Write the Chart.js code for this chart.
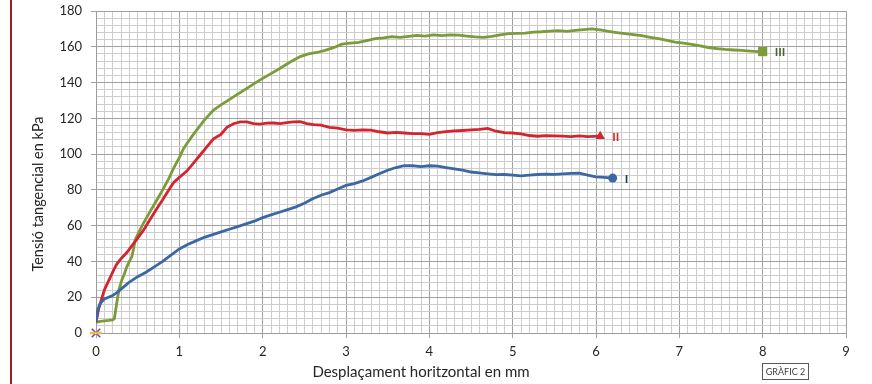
<!DOCTYPE html>
<html>
<head>
<meta charset="utf-8">
<script src="https://cdn.jsdelivr.net/npm/chart.js@4/dist/chart.umd.min.js"></script>
<style>
  html, body { margin: 0; padding: 0; background: #fff; }
  canvas { display: block; }
</style>
</head>
<body>
<canvas id="myChart" width="872" height="384"></canvas>
<script>
'use strict'

// assaig I: desplaçament (mm) i tensió (kPa)
var xI = [0, 0.02, 0.05, 0.1, 0.15, 0.2, 0.25, 0.3, 0.35, 0.4, 0.5, 0.6, 0.7, 0.8, 0.9, 1.0,
    1.1, 1.2, 1.3, 1.4, 1.5, 1.6, 1.7, 1.8, 1.9, 2.0, 2.1, 2.2, 2.3, 2.4, 2.5, 2.6, 2.7, 2.8,
    2.9, 3.0, 3.1, 3.2, 3.3, 3.4, 3.5, 3.6, 3.7, 3.8, 3.9, 4.0, 4.1, 4.2, 4.3, 4.4, 4.5, 4.6,
    4.7, 4.8, 4.9, 5.0, 5.1, 5.2, 5.3, 5.4, 5.5, 5.6, 5.7, 5.8, 5.9, 6.0, 6.1, 6.2];
var yI = [6, 13, 16.5, 19, 20, 21, 22.5, 24.5, 26.5, 28.5, 31.5, 34, 37, 40, 43.5, 47,
    49.5, 51.5, 53.5, 55, 56.5, 58, 59.5, 61, 62.5, 64.5, 66, 67.5, 69, 70.5, 72.5, 75, 77, 78.5,
    80.5, 82.5, 83.5, 85, 87, 89, 91, 92.5, 93.5, 93.5, 93, 93.5, 93.3, 92.5, 91.8, 91, 90, 89.5,
    89, 88.5, 88.6, 88.2, 87.8, 88.3, 88.6, 88.8, 88.7, 88.9, 89.2, 89.3, 88.3, 87.3, 87.0, 86.6];

// assaig II
var xII = [0, 0.03, 0.06, 0.1, 0.13, 0.17, 0.21, 0.25, 0.3, 0.37, 0.45, 0.5, 0.57, 0.63, 0.69,
    0.75, 0.8, 0.86, 0.93, 1.0, 1.09, 1.17, 1.25, 1.33, 1.41, 1.5, 1.57, 1.65, 1.73, 1.81, 1.89,
    1.97, 2.05, 2.13, 2.21, 2.29, 2.37, 2.45, 2.53, 2.61, 2.7, 2.8, 2.9, 3.0, 3.1, 3.2, 3.3, 3.4,
    3.5, 3.6, 3.7, 3.8, 3.9, 4.0, 4.1, 4.2, 4.3, 4.4, 4.5, 4.6, 4.7, 4.8, 4.9, 5.0, 5.1, 5.2,
    5.3, 5.4, 5.5, 5.6, 5.7, 5.8, 5.9, 6.05];
var yII = [6, 13, 18, 24, 27, 31, 35, 38.5, 41.5, 45, 50, 53, 57.5, 62, 66.5,
    71, 74.5, 79, 84, 87, 90.5, 95, 99.5, 104, 108.5, 111, 115, 117, 118, 118, 117,
    116.8, 117.3, 117.4, 117, 117.6, 118, 118.2, 117, 116.5, 116.2, 115, 114.5, 113.5, 113.3, 113.6, 113.4, 112.5,
    111.8, 112.2, 111.8, 111.5, 111.5, 111, 112, 112.6, 113, 113.2, 113.5, 113.8, 114.4, 112.8, 112, 111.8, 111.3, 110.4,
    110, 110.3, 110.2, 110, 109.8, 110.2, 109.8, 110];

// assaig III
var xIII = [0, 0.05, 0.1, 0.15, 0.2, 0.22, 0.24, 0.26, 0.28, 0.31, 0.34, 0.37, 0.4, 0.43, 0.45,
    0.47, 0.52, 0.57, 0.65, 0.73, 0.8, 0.87, 0.93, 1.0, 1.05, 1.1, 1.16, 1.21, 1.3, 1.41, 1.5,
    1.65, 1.8, 1.97, 2.1, 2.21, 2.33, 2.45, 2.55, 2.65, 2.75, 2.85, 2.95, 3.05, 3.15, 3.25, 3.35,
    3.45, 3.55, 3.65, 3.75, 3.85, 3.95, 4.05, 4.15, 4.25, 4.35, 4.45, 4.55, 4.65, 4.75, 4.85, 4.95,
    5.05, 5.15, 5.25, 5.35, 5.45, 5.55, 5.65, 5.75, 5.85, 5.95, 6.05, 6.15, 6.25, 6.35, 6.45, 6.55,
    6.65, 6.75, 6.85, 6.95, 7.05, 7.15, 7.25, 7.35, 7.45, 7.55, 7.65, 7.75, 7.85, 7.95, 8.0];
var yIII = [6, 6.5, 6.8, 7, 7.3, 8, 14, 20, 25, 29.6, 33, 37, 40, 42.6, 47,
    52, 57, 61.4, 68, 74.3, 80, 86, 92, 98, 103, 106.5, 110.5, 113.5, 119, 124.6, 127.5,
    132, 136.5, 141.5, 145, 148, 151.5, 154.5, 156, 156.8, 158, 159.5, 161.5, 162, 162.5, 163.5, 164.5,
    165, 165.7, 165.3, 165.8, 166.4, 166, 166.6, 166.2, 166.6, 166.5, 166, 165.5, 165.3, 165.8, 166.6, 167.3,
    167.5, 167.6, 168.2, 168.4, 168.8, 169, 168.6, 169.2, 169.6, 170, 169.4, 168.6, 167.9, 167.3, 166.8, 166.2,
    165.3, 164.5, 163.6, 162.6, 162, 161.4, 160.5, 159.6, 159, 158.5, 158.2, 158, 157.6, 157.3, 157.3];

var seriesNames = ['I', 'II', 'III'];
var seriesColors = ['#3b67a3', '#d3252f', '#7c9b3b'];
var labelColors = ['#24385a', '#d3252f', '#4f6228'];
var endStyles = ['circle', 'triangle', 'rect'];
var endRadius = [4.5, 5.5, 6.5];

var xTitle = 'Desplaçament horitzontal en mm';
var yTitle = 'Tensió tangencial en kPa';
var boxText = 'GRÀFIC 2';

function pts(xs, ys) {
    return xs.map(function (x, i) { return { x: x, y: ys[i] }; });
}

var curves = [pts(xI, yI), pts(xII, yII), pts(xIII, yIII)];

var datasets = [];
curves.forEach(function (c, i) {
    datasets.push({
        label: seriesNames[i],
        data: c,
        showLine: true,
        borderColor: seriesColors[i],
        backgroundColor: seriesColors[i],
        borderWidth: 2.8,
        pointRadius: 0,
        tension: 0
    });
});
// marcadors del final de cada assaig
curves.forEach(function (c, i) {
    datasets.push({
        data: [c[c.length - 1]],
        pointStyle: endStyles[i],
        pointRadius: endRadius[i],
        backgroundColor: seriesColors[i],
        borderColor: seriesColors[i],
        borderWidth: 0,
        clip: false
    });
});
// origen
datasets.push({
    data: [{ x: 0, y: 0 }],
    pointStyle: 'line',
    pointRadius: 6,
    borderColor: '#e8c040',
    borderWidth: 2.5,
    clip: false
});
datasets.push({
    data: [{ x: 0, y: 0 }],
    pointStyle: 'crossRot',
    pointRadius: 6,
    borderColor: '#7a3aa8',
    borderWidth: 1.5,
    clip: false
});

var font = 'Lato, "Liberation Sans", sans-serif';

var decor = {
    id: 'decor',
    afterDatasetsDraw: function (chart) {
        var ctx = chart.ctx;
        var xs = chart.scales.x, ys = chart.scales.y;
        ctx.save();
        // etiquetes I, II, III
        ctx.font = 'bold 12px ' + font;
        ctx.textBaseline = 'middle';
        ctx.textAlign = 'left';
        curves.forEach(function (c, i) {
            var p = c[c.length - 1];
            ctx.fillStyle = labelColors[i];
            ctx.fillText(seriesNames[i], xs.getPixelForValue(p.x) + 12, ys.getPixelForValue(p.y) + 1);
        });
        ctx.restore();
    },
    afterDraw: function (chart) {
        var ctx = chart.ctx;
        var area = chart.chartArea;
        ctx.save();
        // línia vermella del marge
        ctx.fillStyle = '#9a1f1f';
        ctx.fillRect(10, 0, 2, chart.height);
        // títols dels eixos
        ctx.fillStyle = '#262626';
        ctx.textAlign = 'center';
        ctx.textBaseline = 'middle';
        ctx.font = '15px ' + font;
        ctx.fillText(xTitle, area.left + 325, 372);
        ctx.font = '14.5px ' + font;
        ctx.translate(38, 194);
        ctx.rotate(-Math.PI / 2);
        ctx.fillText(yTitle, 0, 0);
        ctx.restore();
        // requadre del gràfic
        ctx.save();
        ctx.strokeStyle = '#595959';
        ctx.lineWidth = 1;
        ctx.strokeRect(762.5, 363.5, 46, 16);
        ctx.fillStyle = '#404040';
        ctx.font = '9px ' + font;
        ctx.textAlign = 'center';
        ctx.textBaseline = 'middle';
        ctx.fillText(boxText, 785.5, 372);
        ctx.restore();
    }
};

function isMajor(v, step) {
    var r = v / step;
    return Math.abs(r - Math.round(r)) < 1e-6;
}

var ctx = document.getElementById('myChart').getContext('2d');

var myChart = new Chart(ctx, {
    type: 'scatter',
    data: { datasets: datasets },
    options: {
        responsive: false,
        animation: false,
        layout: { padding: { left: 0, top: 11, right: 26, bottom: 0 } },
        plugins: {
            legend: { display: false },
            tooltip: { enabled: false }
        },
        scales: {
            x: {
                type: 'linear',
                min: 0,
                max: 9,
                afterFit: function (s) {
                    s.height = 51;
                    s.paddingLeft = 0;
                    s.paddingRight = 0;
                },
                border: { color: '#9c9c9c', width: 1 },
                grid: {
                    tickLength: 5,
                    color: function (c) { return isMajor(c.tick.value, 1) ? '#a0a0a0' : '#cdcdcd'; },
                    tickColor: function (c) { return isMajor(c.tick.value, 1) ? '#a0a0a0' : 'rgba(0,0,0,0)'; }
                },
                ticks: {
                    stepSize: 0.1,
                    autoSkip: false,
                    maxRotation: 0,
                    padding: 6,
                    color: '#262626',
                    font: { family: font, size: 13 },
                    callback: function (v) { return isMajor(v, 1) ? String(Math.round(v)) : ''; }
                }
            },
            y: {
                type: 'linear',
                min: 0,
                max: 180,
                afterFit: function (s) {
                    s.width = 96;
                    s.paddingTop = 0;
                    s.paddingBottom = 0;
                },
                border: { color: '#9c9c9c', width: 1 },
                grid: {
                    tickLength: 5,
                    color: function (c) { return isMajor(c.tick.value, 20) ? '#a0a0a0' : '#cdcdcd'; },
                    tickColor: function (c) { return isMajor(c.tick.value, 20) ? '#a0a0a0' : 'rgba(0,0,0,0)'; }
                },
                ticks: {
                    stepSize: 4,
                    autoSkip: false,
                    padding: 9,
                    color: '#262626',
                    font: { family: font, size: 13 },
                    callback: function (v) { return isMajor(v, 20) ? String(v) : ''; }
                }
            }
        }
    },
    plugins: [decor]
});
</script>
</body>
</html>
